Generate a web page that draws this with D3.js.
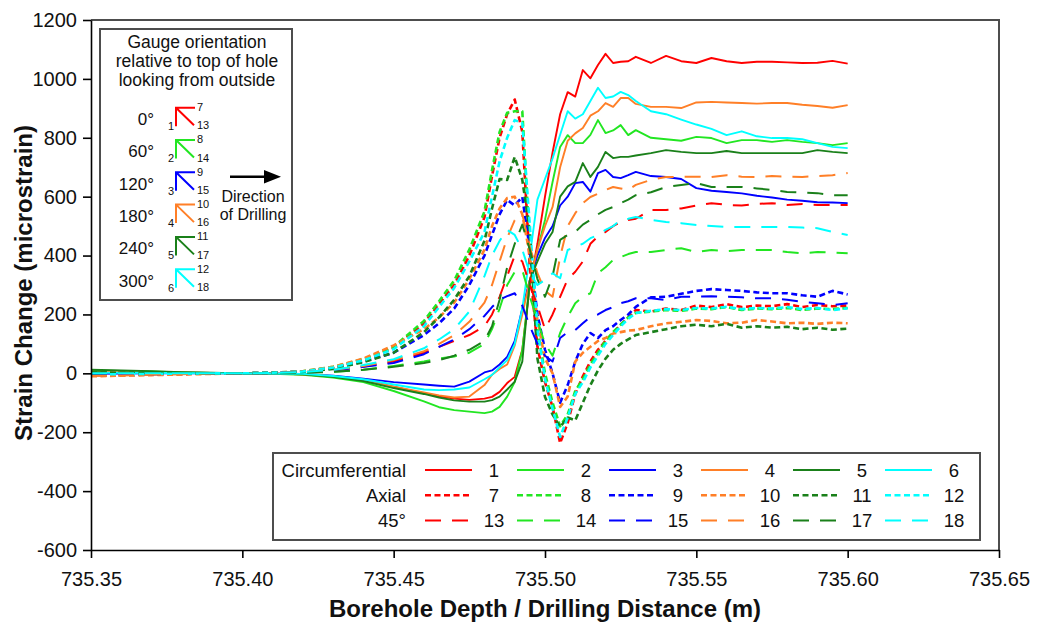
<!DOCTYPE html>
<html><head><meta charset="utf-8">
<script src="https://cdn.jsdelivr.net/npm/d3@7"></script>
<style>body{margin:0;background:#fff}text{font-family:"Liberation Sans",Arial,sans-serif}</style>
</head><body><svg id="c" width="1037" height="628"></svg>
<script>
const depth = [735.35,735.36,735.37,735.38,735.39,735.40,735.41,735.42,735.43,735.44,735.45,735.46,735.465,735.47,735.475,735.48,735.4825,735.485,735.4875,735.49,735.4925,735.495,735.4975,735.50,735.5025,735.505,735.5075,735.51,735.5125,735.515,735.5175,735.52,735.5225,735.525,735.5275,735.53,735.535,735.54,735.545,735.55,735.555,735.56,735.565,735.57,735.575,735.58,735.585,735.59,735.595,735.60];
// Circumferential
const s1 = [5,4,3,2,1,0,-1,-3,-10,-22,-45,-68,-78,-86,-90,-86,-80,-63,-33,-12,80,300,440,600,750,880,955,940,1030,1002,1047,1085,1054,1058,1060,1075,1054,1078,1060,1054,1071,1060,1054,1058,1058,1056,1054,1055,1061,1052];
const s2 = [10,8,6,3,1,0,-2,-5,-14,-30,-60,-95,-115,-125,-130,-135,-130,-114,-79,-30,79,310,420,521,650,769,809,782,782,810,860,816,825,843,809,826,800,795,790,803,799,782,792,792,786,792,786,782,775,782];
const s3 = [-2,-1,0,0,0,0,-1,-2,-8,-18,-30,-38,-42,-45,-28,3,10,30,56,110,220,317,400,460,500,570,600,646,650,617,680,691,667,663,673,684,670,667,660,629,620,616,611,603,597,590,586,581,580,578];
const s4 = [6,5,3,2,1,0,-1,-3,-10,-24,-45,-65,-75,-82,-79,-40,-5,15,30,95,200,317,420,500,565,700,790,815,833,875,890,918,905,935,935,915,905,905,901,920,922,920,918,916,918,918,912,908,902,911];
const s5 = [12,10,7,4,2,0,-1,-3,-12,-26,-50,-70,-82,-92,-96,-96,-91,-79,-55,-28,40,317,380,440,480,600,635,650,714,667,701,752,731,735,735,740,748,758,752,748,748,755,748,748,748,748,748,758,752,748];
const s6 = [2,2,1,1,0,0,-1,-2,-9,-20,-38,-55,-57,-55,-48,-20,-5,20,45,100,220,400,590,660,730,810,890,865,880,925,970,935,940,956,945,925,890,880,862,845,830,809,822,805,799,799,795,782,769,765];
// Axial
const s7 = [-5,-4,-3,-2,-1,0,2,6,20,45,85,170,235,300,400,530,670,800,880,930,820,362,90,-30,-114,-237,-168,-70,-10,40,80,110,137,165,190,215,210,220,215,230,225,235,225,230,228,235,225,232,228,230];
const s8 = [-4,-3,-2,-1,0,0,2,7,22,48,90,178,245,315,420,550,690,820,885,890,890,430,150,0,-100,-180,-140,-60,-20,30,70,110,140,165,190,205,210,215,212,220,218,225,215,220,218,222,215,220,218,222];
const s9 = [-8,-6,-4,-2,-1,0,2,6,18,40,70,130,170,220,300,400,470,540,589,570,599,420,200,80,0,-100,-40,40,100,137,120,147,160,181,200,226,258,260,270,280,286,283,280,275,272,272,265,260,280,268];
const s10 = [-10,-8,-6,-4,-2,0,2,7,22,50,95,150,190,240,320,420,500,560,595,600,540,400,180,50,0,-114,-79,40,70,90,110,120,135,140,145,147,160,170,175,181,178,170,172,181,176,170,172,168,172,170];
const s11 = [3,2,1,0,0,0,2,5,15,38,70,140,190,250,330,450,560,660,657,735,657,480,50,-80,-140,-182,-150,-160,-100,-40,10,50,80,100,115,130,140,150,160,165,160,168,155,160,155,158,150,155,148,152];
const s12 = [-3,-3,-2,-1,0,0,2,6,20,44,82,160,225,290,380,480,600,720,800,860,850,500,150,-20,-120,-216,-150,-70,-30,20,60,100,130,160,185,205,212,218,215,222,220,226,218,222,220,225,218,222,215,221];
// 45 degree
const s13 = [-6,-5,-3,-2,-1,0,1,4,10,22,40,70,90,110,130,160,200,260,330,400,380,300,230,150,200,260,320,345,380,440,465,480,500,514,521,525,555,555,560,570,578,572,570,575,578,572,575,572,572,572];
const s14 = [-2,-1,-1,0,0,0,1,3,5,12,25,40,50,57,70,100,150,220,300,344,351,260,180,100,60,137,192,238,260,272,340,360,385,395,405,412,412,419,425,412,419,415,419,419,419,412,408,412,410,408];
const s15 = [-7,-6,-4,-2,-1,0,1,4,10,22,35,65,90,115,150,195,225,250,262,272,230,160,100,60,40,120,140,147,170,192,200,215,225,238,245,255,255,249,260,260,262,260,258,255,255,250,243,238,232,238];
const s16 = [-9,-7,-5,-3,-1,0,1,4,12,25,45,75,100,130,175,240,300,380,460,520,540,430,340,280,260,395,500,544,578,599,610,623,633,628,623,640,657,667,667,668,667,673,668,667,670,668,667,670,673,680];
const s17 = [4,3,2,1,0,0,1,2,5,12,22,35,45,60,80,110,160,250,360,440,505,420,320,260,330,453,470,480,505,521,540,555,565,578,590,605,615,633,640,646,633,633,633,628,623,616,614,612,605,605];
const s18 = [0,0,0,0,0,0,1,4,12,28,48,85,115,150,210,330,400,450,487,470,420,340,300,317,340,323,419,430,440,459,470,487,500,521,525,531,521,514,510,504,500,497,497,497,497,497,495,493,480,470];

const seriesLabels = ["1","2","3","4","5","6","7","8","9","10","11","12","13","14","15","16","17","18"];
const colors = ["#ff0000","#22e622","#0000ff","#ff7f27","#1a801a","#00ffff"];
const rowLabels = ["Circumferential","Axial","45°"];
const orientLabels = ["0°","60°","120°","180°","240°","300°"];
const titleLines = ["Gauge orientation","relative to top of hole","looking from outside"];
const directionLines = ["Direction","of Drilling"];
const xTicks = [735.35,735.40,735.45,735.50,735.55,735.60,735.65];
const yTicks = [-600,-400,-200,0,200,400,600,800,1000,1200];

const allSeries = [s1,s2,s3,s4,s5,s6,s7,s8,s9,s10,s11,s12,s13,s14,s15,s16,s17,s18];
const svg = d3.select("#c");
const x = d3.scaleLinear().domain([735.35,735.65]).range([91,999]);
const y = d3.scaleLinear().domain([-600,1200]).range([550,20]);
const styles = [{w:1.9,dash:null},{w:2.6,dash:"6,3.5"},{w:2,dash:"16,11"}];

svg.append("path").attr("d","M91,20H999V550").attr("fill","none").attr("stroke","#4d4d4d").attr("stroke-width",2);

const line = d3.line().x((d,i)=>x(depth[i])).y(d=>y(d));
allSeries.forEach((s,k)=>{
  const g = Math.floor(k/6);
  svg.append("path").datum(s).attr("d",line).attr("fill","none")
    .attr("stroke",colors[k%6]).attr("stroke-width",styles[g].w)
    .attr("stroke-dasharray",styles[g].dash).attr("stroke-linejoin","round");
});

const xa = svg.append("g").attr("transform","translate(0,550)")
  .call(d3.axisBottom(x).tickValues(xTicks).tickFormat(d=>d.toFixed(2)).tickSize(8).tickSizeOuter(0).tickPadding(14));
const ya = svg.append("g").attr("transform","translate(91,0)")
  .call(d3.axisLeft(y).tickValues(yTicks).tickFormat(d=>String(d)).tickSize(8).tickSizeOuter(0).tickPadding(6));
[xa,ya].forEach(a=>{
  a.selectAll("path,line").attr("stroke","#000").attr("stroke-width",1.6);
  a.selectAll("text").attr("fill","#111").style("font-size","20px").style("font-family","'Liberation Sans',Arial,sans-serif");
});

svg.append("text").attr("x",545).attr("y",617).attr("text-anchor","middle")
  .style("font-size","24px").style("font-weight","bold").attr("fill","#111")
  .text("Borehole Depth / Drilling Distance (m)");
svg.append("text").attr("transform","translate(32,283) rotate(-90)").attr("text-anchor","middle")
  .style("font-size","24px").style("font-weight","bold").attr("fill","#111")
  .text("Strain Change (microstrain)");

// top-left legend
const L = svg.append("g");
L.append("rect").attr("x",100).attr("y",29).attr("width",192).attr("height",271)
  .attr("fill","#fff").attr("stroke","#4d4d4d").attr("stroke-width",2);
titleLines.forEach((t,i)=>L.append("text").attr("x",197).attr("y",48+19*i).attr("text-anchor","middle")
  .style("font-size","17.5px").attr("fill","#111").text(t));
orientLabels.forEach((t,i)=>{
  const top = 107.7 + 32.3*i;
  L.append("text").attr("x",154).attr("y",125+32.3*i).attr("text-anchor","end").style("font-size","17px").attr("fill","#111").text(t);
  L.append("path").attr("d",`M176,${top+18.5}V${top}H195M176,${top}L194,${top+17.5}`)
    .attr("fill","none").attr("stroke",colors[i]).attr("stroke-width",2);
  L.append("text").attr("x",174).attr("y",top+22.3).attr("text-anchor","end").style("font-size","11px").attr("fill","#111").text(seriesLabels[i]);
  L.append("text").attr("x",197).attr("y",top+3.3).style("font-size","11px").attr("fill","#111").text(seriesLabels[i+6]);
  L.append("text").attr("x",197).attr("y",top+21.6).style("font-size","11px").attr("fill","#111").text(seriesLabels[i+12]);
});
L.append("line").attr("x1",230).attr("x2",266).attr("y1",176.7).attr("y2",176.7).attr("stroke","#000").attr("stroke-width",2.5);
L.append("path").attr("d","M264,170L281,176.7L264,183.4Z").attr("fill","#000");
directionLines.forEach((t,i)=>L.append("text").attr("x",253).attr("y",201.5+18.5*i).attr("text-anchor","middle")
  .style("font-size","16px").attr("fill","#111").text(t));

// bottom legend
const B = svg.append("g");
B.append("rect").attr("x",273).attr("y",453).attr("width",707).attr("height",87)
  .attr("fill","#fff").attr("stroke","#4d4d4d").attr("stroke-width",2);
rowLabels.forEach((r,ri)=>{
  const cy = 470 + 25.3*ri;
  B.append("text").attr("x",406).attr("y",cy+6.5).attr("text-anchor","end").style("font-size","18.5px").attr("fill","#111").text(r);
  for(let j=0;j<6;j++){
    const k = ri*6+j;
    const x0 = 425 + 92*j;
    B.append("line").attr("x1",x0).attr("x2",x0+47).attr("y1",cy).attr("y2",cy)
      .attr("stroke",colors[j]).attr("stroke-width",styles[ri].w).attr("stroke-dasharray",styles[ri].dash);
    B.append("text").attr("x",494+92*j).attr("y",cy+6.5).attr("text-anchor","middle").style("font-size","18.5px").attr("fill","#111").text(seriesLabels[k]);
  }
});
</script></body></html>
